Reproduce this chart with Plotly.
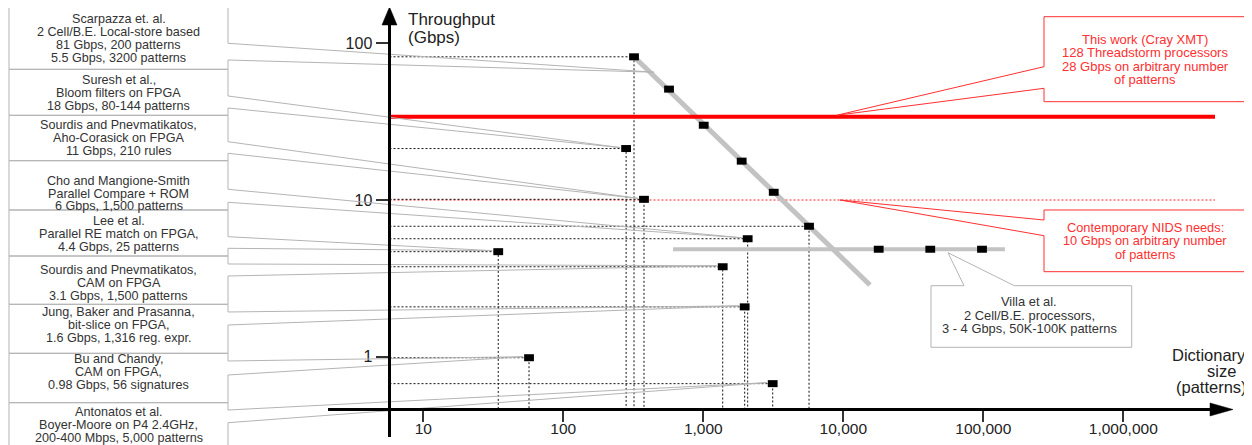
import math
import plotly.graph_objects as go

# ---------------- data ----------------
x_ticks = [10, 100, 1000, 10000, 100000, 1000000]
x_tick_labels = ["10", "100", "1,000", "10,000", "100,000", "1,000,000"]
y_ticks = [1, 10, 100]
y_tick_labels = ["1", "10", "100"]

# Scarpazza et al. (Cell/B.E. local store) - points along the trend
scarpazza_patterns = [320, 569, 1007, 1880, 3185, 5690]
scarpazza_gbps = [82, 51, 30, 17.7, 11.2, 6.8]
scarpazza_trend_patterns = [320, 15500]
scarpazza_trend_gbps = [82, 2.87]

# other works (order matches the left-hand boxes 2..9)
works = ["Suresh", "Sourdis AC", "Cho", "Lee", "Sourdis CAM", "Jung", "Bu", "Antonatos"]
works_patterns = [281, 377, 2075, 34.3, 1376, 1975, 56.9, 3131]
works_gbps = [21.3, 10.1, 5.66, 4.68, 3.75, 2.08, 0.985, 0.673]

# Villa et al.
villa_patterns = [17900, 41800, 97900]
villa_gbps = [4.85, 4.85, 4.85]
villa_range_patterns = [608, 142600]

# reference lines
cray_gbps = 34.0
nids_gbps = 10.0
ref_line_end_patterns = 4.52e6

box_texts = [
    ["Scarpazza et. al.", "2 Cell/B.E. Local-store based", "81 Gbps, 200 patterns", "5.5 Gbps, 3200 patterns"],
    ["Suresh et al.,", "Bloom filters on FPGA", "18 Gbps, 80-144 patterns"],
    ["Sourdis and Pnevmatikatos,", "Aho-Corasick on FPGA", "11 Gbps, 210 rules"],
    ["Cho and Mangione-Smith", "Parallel Compare + ROM", "6 Gbps, 1,500 patterns"],
    ["Lee et al.", "Parallel RE match on FPGA,", "4.4 Gbps, 25 patterns"],
    ["Sourdis and Pnevmatikatos,", "CAM on FPGA", "3.1 Gbps, 1,500 patterns"],
    ["Jung, Baker and Prasanna,", "bit-slice on FPGA,", "1.6 Gbps, 1,316 reg. expr."],
    ["Bu and Chandy,", "CAM on FPGA,", "0.98 Gbps, 56 signatures"],
    ["Antonatos et al.", "Boyer-Moore on P4 2.4GHz,", "200-400 Mbps, 5,000 patterns"],
]
cray_text = ["This work (Cray XMT)", "128 Threadstorm processors", "28 Gbps on arbitrary number", "of patterns"]
nids_text = ["Contemporary NIDS needs:", "10 Gbps on arbitrary number", "of patterns"]
villa_text = ["Villa et al.", "2 Cell/B.E. processors,", "3 - 4 Gbps, 50K-100K patterns"]

# ---------------- layout geometry (screen pixels) ----------------
SCR_W, SCR_H = 1252, 445
OFF = 8                      # page body margin
W, H = SCR_W - OFF, SCR_H - OFF
X_PX_DEC, X_PX_10 = 140.0, 423.3
Y_PX_DEC, Y_PX_1 = 156.7, 356.7
XR = [1 + (OFF - X_PX_10) / X_PX_DEC, 1 + (SCR_W - X_PX_10) / X_PX_DEC]
YR = [(Y_PX_1 - SCR_H) / Y_PX_DEC, (Y_PX_1 - OFF) / Y_PX_DEC]
AXIS_X_PX, AXIS_Y_PX = 389.5, 409.5
X_AT_YAXIS = 10 ** (1 + (AXIS_X_PX - X_PX_10) / X_PX_DEC)
Y_AT_XAXIS = 10 ** ((Y_PX_1 - AXIS_Y_PX) / Y_PX_DEC)

FONT = "Liberation Sans, Arial, Helvetica, sans-serif"


def to_px(x, y):
    return (X_PX_10 + X_PX_DEC * (math.log10(x) - 1), Y_PX_1 - Y_PX_DEC * math.log10(y))


def fx(px):
    return (px - OFF) / W


def fy(py):
    return 1 - (py - OFF) / H


def P(px, py):
    return f"{fx(px):.5f},{fy(py):.5f}"


def path(points, close=False):
    s = "M " + " L ".join(P(*p) for p in points)
    return s + (" Z" if close else "")


fig = go.Figure()

# NIDS 10 Gbps red dotted line
fig.add_trace(go.Scatter(x=[X_AT_YAXIS, ref_line_end_patterns], y=[nids_gbps, nids_gbps],
                         mode="lines", line=dict(color="#ff2020", width=1, dash="2px,2px"),
                         hoverinfo="skip", showlegend=False))

# drop lines
drop_pts = [(scarpazza_patterns[0], scarpazza_gbps[0]), (scarpazza_patterns[-1], scarpazza_gbps[-1])]
drop_pts += list(zip(works_patterns, works_gbps))
dx, dy = [], []
for x, y in drop_pts:
    dx += [X_AT_YAXIS, x, x, None]
    dy += [y, y, Y_AT_XAXIS, None]
fig.add_trace(go.Scatter(x=dx, y=dy, mode="lines", line=dict(color="#111", width=1, dash="2px,2px"),
                         hoverinfo="skip", showlegend=False))

# grey trend lines
fig.add_trace(go.Scatter(x=scarpazza_trend_patterns, y=scarpazza_trend_gbps, mode="lines",
                         line=dict(color="#c3c3c3", width=5), hoverinfo="skip", showlegend=False))
fig.add_trace(go.Scatter(x=villa_range_patterns, y=[villa_gbps[0]] * 2, mode="lines",
                         line=dict(color="#c3c3c3", width=4), hoverinfo="skip", showlegend=False))

# Cray XMT line
fig.add_trace(go.Scatter(x=[X_AT_YAXIS, ref_line_end_patterns], y=[cray_gbps, cray_gbps], mode="lines",
                         line=dict(color="#ff0000", width=4), hoverinfo="skip", showlegend=False))

# markers
mk = dict(symbol="line-ew", size=7, line=dict(width=7, color="black"))
fig.add_trace(go.Scatter(x=scarpazza_patterns, y=scarpazza_gbps, mode="markers", marker=mk, showlegend=False))
fig.add_trace(go.Scatter(x=works_patterns, y=works_gbps, mode="markers", marker=mk, showlegend=False,
                         text=works))
fig.add_trace(go.Scatter(x=villa_patterns, y=villa_gbps, mode="markers", marker=mk, showlegend=False))

shapes = []
annotations = []


def add_lines(lines, cx, cy, sp, size, color):
    n = len(lines)
    for j, t in enumerate(lines):
        yy = cy + (j - (n - 1) / 2) * sp
        annotations.append(dict(x=fx(cx), y=fy(yy), xref="paper", yref="paper", text=t, showarrow=False,
                                xanchor="center", yanchor="middle", borderpad=0,
                                font=dict(family=FONT, size=size, color=color)))


# left boxes
box_edges = [7.3, 69.3, 115.3, 160.7, 210, 256, 304.3, 353.3, 402.7, 452]
wedges = [(43.3, 60), (96, 108), (141.7, 153.3), (189.3, 202.3), (236.7, 248.3),
          (264, 276), (312, 325), (361, 375), (410, 422.7)]
text_centers = [38.2, 92.7, 138.3, 193.5, 234, 283, 325, 371.7, 424.5]
BL, BR = 9, 228
tx0, ty0 = to_px(scarpazza_trend_patterns[0], scarpazza_trend_gbps[0])
tx1, ty1 = to_px(scarpazza_trend_patterns[1], scarpazza_trend_gbps[1])
tips = [(tx0 + 0.085 * (tx1 - tx0), ty0 + 0.085 * (ty1 - ty0) - 4)]
for x, y in zip(works_patterns, works_gbps):
    px_, py_ = to_px(x, y)
    tips.append((px_ - 6, py_ - 1))

for i, lines in enumerate(box_texts):
    top, bot = box_edges[i], box_edges[i + 1]
    wt, wb = wedges[i]
    shapes.append(dict(type="path", xref="paper", yref="paper",
                       path=path([(BL, top), (BR, top), (BR, wt), tips[i], (BR, wb), (BR, bot), (BL, bot)], True),
                       line=dict(color="#b4b4b4", width=1), fillcolor="rgba(0,0,0,0)", layer="above"))
    add_lines(lines, (BL + BR) / 2, text_centers[i], 13.0, 12.6, "#333")

# red callout: Cray
_, cy = to_px(10, cray_gbps)
shapes.append(dict(type="path", xref="paper", yref="paper",
                   path=path([(1044, 16.7), (1245.7, 16.7), (1245.7, 101.7), (1044, 101.7), (1044, 88.3),
                              (837, cy - 1.5), (1044, 66.7)], True),
                   line=dict(color="#ff3030", width=1), fillcolor="rgba(0,0,0,0)"))
add_lines(cray_text, 1145, 59.5, 13.2, 13.0, "#ff3030")

# red callout: NIDS
_, ny = to_px(10, nids_gbps)
shapes.append(dict(type="path", xref="paper", yref="paper",
                   path=path([(1044, 220), (1044, 210), (1246, 210), (1246, 271.7), (1044, 271.7), (1044, 235.7),
                              (840, ny)], True),
                   line=dict(color="#ff3030", width=1), fillcolor="rgba(0,0,0,0)"))
add_lines(nids_text, 1145, 241, 13.5, 12.8, "#ff3030")

# Villa callout
_, vy = to_px(10, villa_gbps[0])
shapes.append(dict(type="path", xref="paper", yref="paper",
                   path=path([(931, 285.7), (964, 285.7), (948, vy + 3.5), (1014.3, 285.7), (1131.7, 285.7),
                              (1131.7, 347.3), (931, 347.3)], True),
                   line=dict(color="#b4b4b4", width=1), fillcolor="rgba(0,0,0,0)"))
add_lines(villa_text, 1029, 315, 13.2, 12.9, "#333")

# axes lines + arrows
shapes.append(dict(type="line", xref="paper", yref="paper", x0=fx(AXIS_X_PX), x1=fx(AXIS_X_PX),
                   y0=fy(437), y1=fy(20), line=dict(color="black", width=3), layer="above"))
shapes.append(dict(type="path", xref="paper", yref="paper",
                   path=path([(AXIS_X_PX, 7), (AXIS_X_PX - 7.5, 25), (AXIS_X_PX + 7.5, 25)], True),
                   line=dict(color="black", width=0.5), fillcolor="black", layer="above"))
shapes.append(dict(type="line", xref="paper", yref="paper", x0=fx(328), x1=fx(1214),
                   y0=fy(AXIS_Y_PX), y1=fy(AXIS_Y_PX), line=dict(color="black", width=3), layer="above"))
shapes.append(dict(type="path", xref="paper", yref="paper",
                   path=path([(1233, AXIS_Y_PX), (1210, AXIS_Y_PX - 6.5), (1210, AXIS_Y_PX + 6.5)], True),
                   line=dict(color="black", width=0.5), fillcolor="black", layer="above"))

# axis titles
for t, (xx, yy) in zip(["Throughput", "(Gbps)"], [(406.5, 8.6), (406.5, 26.6)]):
    annotations.append(dict(x=fx(xx), y=fy(yy), xref="paper", yref="paper", text=t, showarrow=False,
                            xanchor="left", yanchor="top", borderpad=0,
                            font=dict(family=FONT, size=17, color="#222")))
for t, (xx, yy) in zip(["Dictionary", "size", "(patterns)"], [(1209, 354.5), (1221, 371), (1211, 387)]):
    annotations.append(dict(x=fx(xx), y=fy(yy), xref="paper", yref="paper", text=t, showarrow=False,
                            xanchor="center", yanchor="middle", borderpad=0,
                            font=dict(family=FONT, size=16.5, color="#222")))

fig.update_layout(
    width=W, height=H, margin=dict(l=0, r=0, t=0, b=0),
    paper_bgcolor="white", plot_bgcolor="white", showlegend=False,
    shapes=shapes, annotations=annotations,
    xaxis=dict(type="log", range=XR, anchor="free", position=fy(AXIS_Y_PX), automargin=False,
               showgrid=False, zeroline=False, showline=False, ticks="outside", ticklen=11, tickwidth=1.5,
               tickcolor="#333", tickvals=x_ticks, ticktext=x_tick_labels, ticklabelstandoff=-6,
               tickfont=dict(family=FONT, size=15.5, color="#222")),
    yaxis=dict(type="log", range=YR, anchor="free", position=fx(AXIS_X_PX), automargin=False,
               showgrid=False, zeroline=False, showline=False, ticks="outside", ticklen=14, tickwidth=1.5,
               tickcolor="#333", tickvals=y_ticks, ticktext=y_tick_labels,
               tickfont=dict(family=FONT, size=16, color="#222")),
)

fig.write_html("out.html")
